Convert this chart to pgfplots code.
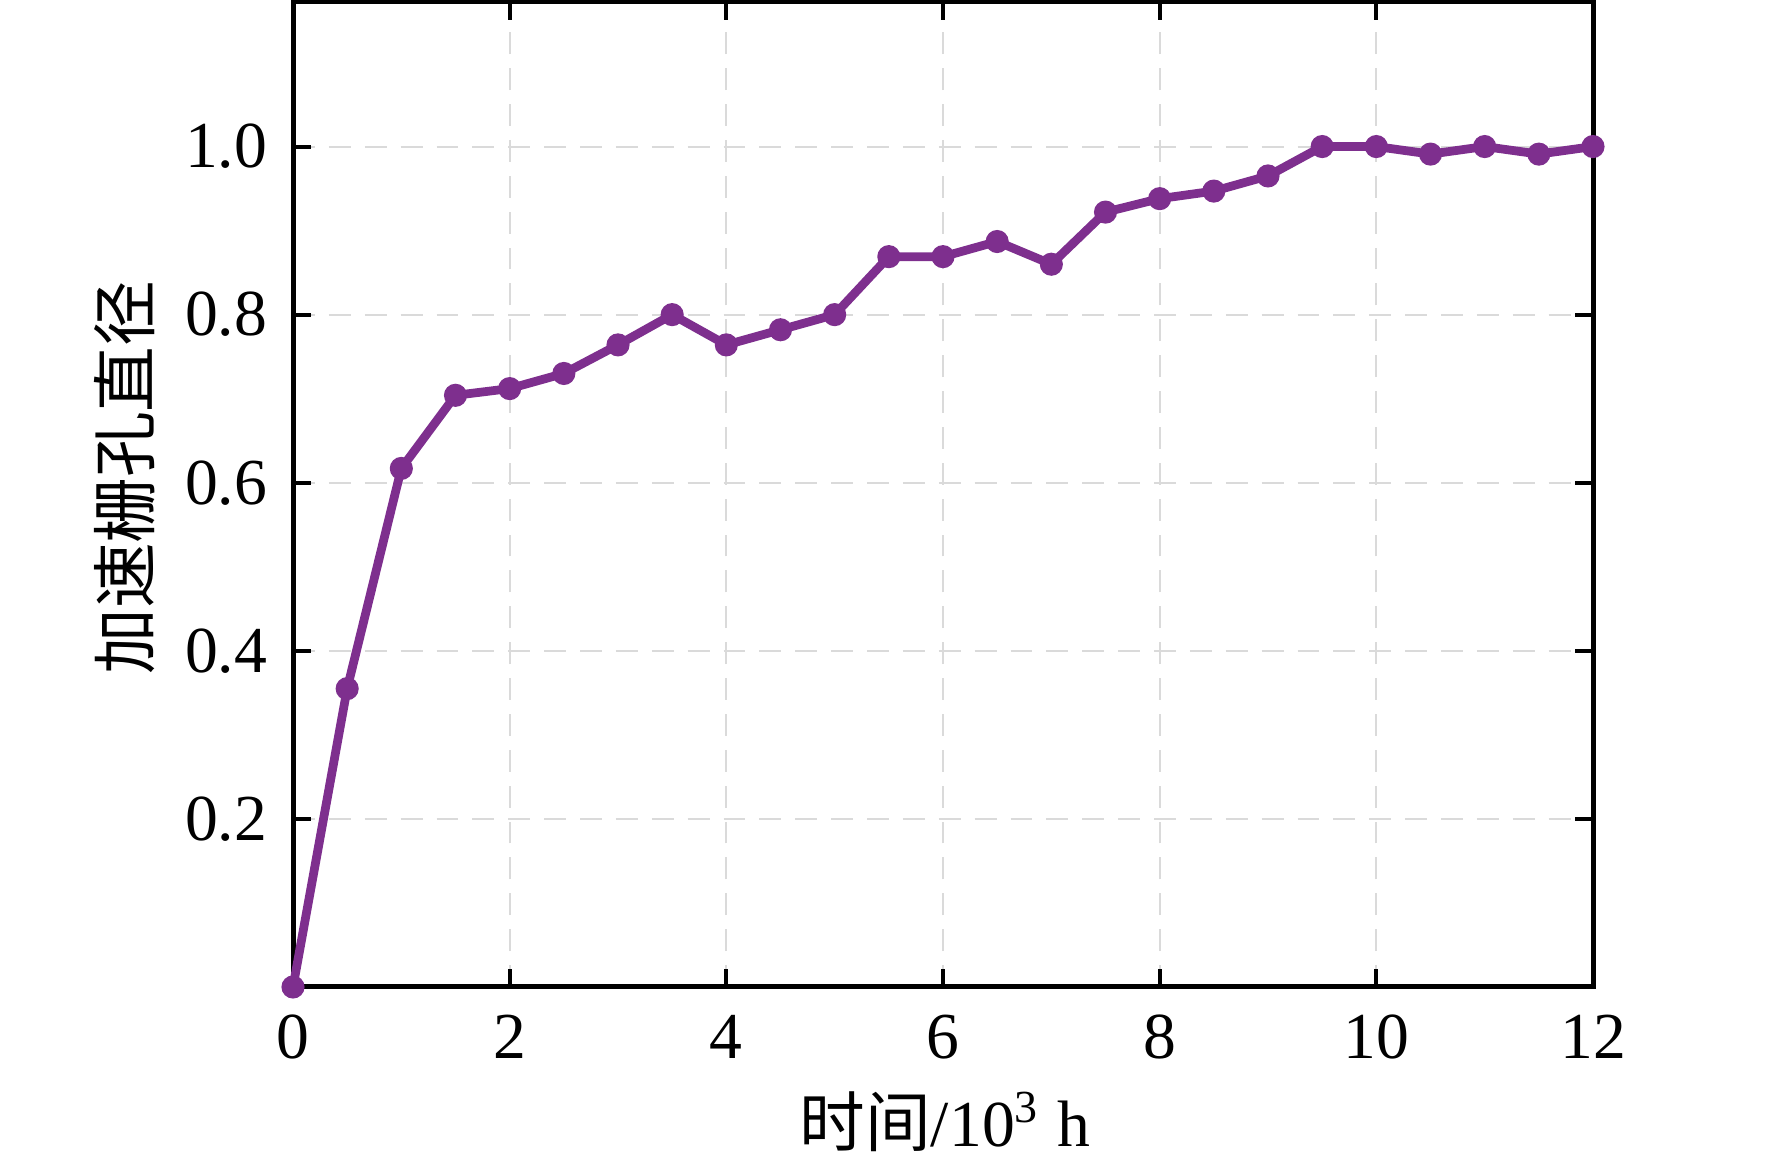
\documentclass[border=0pt]{standalone}
\usepackage{fontspec}
\setmainfont{Liberation Serif}
\newfontfamily\cjk{Noto Sans CJK SC}
\usepackage{pgfplots}
\pgfplotsset{compat=1.18}
\definecolor{plotpurple}{RGB}{126,47,142}
\definecolor{gridgray}{RGB}{218,218,218}
\begin{document}
\begin{tikzpicture}
\begin{axis}[
  scale only axis, width=208pt, height=157.6pt,
  xmin=0, xmax=12, ymin=0, ymax=1.172,
  xtick={0,2,4,6,8,10,12},
  ytick={0.2,0.4,0.6,0.8,1.0},
  /pgf/number format/assume math mode=true,
  yticklabel style={/pgf/number format/fixed, /pgf/number format/fixed zerofill, /pgf/number format/precision=1, xshift=-0.6pt},
  tick label style={font=\fontsize{10.5}{12}\selectfont},
  xticklabel style={yshift=-1pt},
  label style={font=\fontsize{10.5}{12}\selectfont},
  xlabel={{\cjk 时间}/10\textsuperscript{3} h},
  ylabel={{\cjk 加速栅孔直径}},
  xlabel style={at={(axis description cs:0.5015,-0.1624)}, anchor=base},
  ylabel style={at={(axis description cs:-0.1292,0.517)}, anchor=center},
  axis line style={line width=0.8pt},
  every tick/.style={black, line width=0.65pt},
  major tick length=2.9pt,
  tick align=inside,
  grid=major,
  major grid style={gridgray, line width=0.32pt, dash pattern=on 3.5pt off 2.24pt},
  clip=false,
]
\addplot[color=plotpurple, line width=1.4pt, mark=*, mark size=1.7pt,
  mark options={solid, fill=plotpurple, draw=plotpurple, line width=0.3pt}] coordinates {
  (0,0) (0.5,0.355) (1,0.617) (1.5,0.704) (2,0.712) (2.5,0.730)
  (3,0.764) (3.5,0.800) (4,0.764) (4.5,0.782) (5,0.800) (5.5,0.869)
  (6,0.869) (6.5,0.887) (7,0.860) (7.5,0.922) (8,0.938) (8.5,0.947)
  (9,0.965) (9.5,1.000) (10,1.000) (10.5,0.991) (11,1.000) (11.5,0.991)
  (12,1.000)
};
\coordinate (bbl) at (axis description cs:-0.22538,-0.18274);
\coordinate (btr) at (axis description cs:1.13769,1.00203);
\end{axis}
\pgfresetboundingbox
\path (bbl) rectangle (btr);
\end{tikzpicture}
\end{document}
